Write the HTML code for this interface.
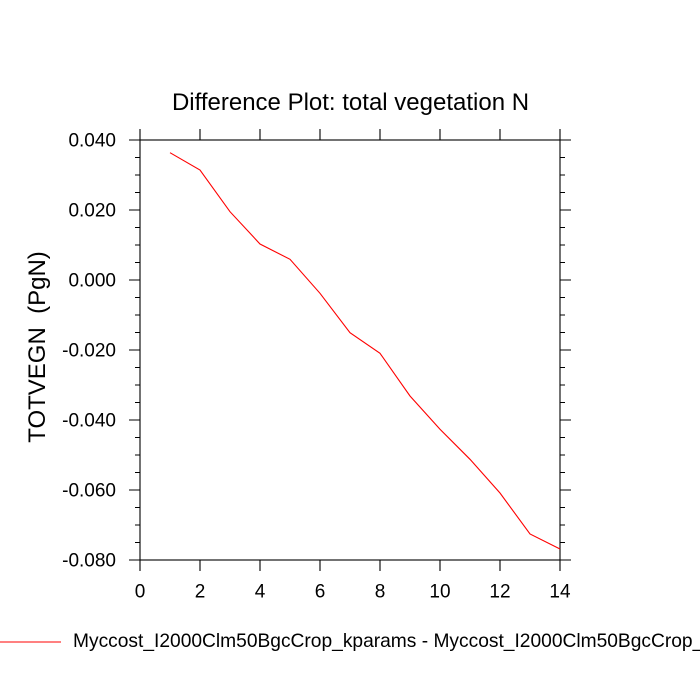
<!DOCTYPE html>
<html>
<head>
<meta charset="utf-8">
<style>
html,body{margin:0;padding:0;background:#fff;}
svg{display:block;}
text{font-family:"Liberation Sans",Arial,sans-serif;fill:#000;}
</style>
</head>
<body>
<svg width="700" height="700" viewBox="0 0 700 700" xmlns="http://www.w3.org/2000/svg">
<rect width="700" height="700" fill="#fff"/>
<!-- title -->
<text x="350.5" y="110" font-size="24" text-anchor="middle">Difference Plot: total vegetation N</text>
<!-- y label -->
<text transform="translate(45,347) rotate(-90)" font-size="24" text-anchor="middle" xml:space="preserve">TOTVEGN  (PgN)</text>

<g stroke="#000" stroke-width="1.1" fill="none">
<!-- frame -->
<rect x="140" y="140" width="420" height="420"/>
<!-- x major ticks bottom & top -->
<path d="M140 560V571 M200 560V571 M260 560V571 M320 560V571 M380 560V571 M440 560V571 M500 560V571 M560 560V571
M140 140V129 M200 140V129 M260 140V129 M320 140V129 M380 140V129 M440 140V129 M500 140V129 M560 140V129"/>
<!-- y major ticks left & right -->
<path d="M140 140H129 M140 210H129 M140 280H129 M140 350H129 M140 420H129 M140 490H129 M140 560H129
M560 140H571 M560 210H571 M560 280H571 M560 350H571 M560 420H571 M560 490H571 M560 560H571"/>
<!-- y minor ticks -->
<path d="M140 157.5H135 M140 175H135 M140 192.5H135
M140 227.5H135 M140 245H135 M140 262.5H135
M140 297.5H135 M140 315H135 M140 332.5H135
M140 367.5H135 M140 385H135 M140 402.5H135
M140 437.5H135 M140 455H135 M140 472.5H135
M140 507.5H135 M140 525H135 M140 542.5H135
M560 157.5H565 M560 175H565 M560 192.5H565
M560 227.5H565 M560 245H565 M560 262.5H565
M560 297.5H565 M560 315H565 M560 332.5H565
M560 367.5H565 M560 385H565 M560 402.5H565
M560 437.5H565 M560 455H565 M560 472.5H565
M560 507.5H565 M560 525H565 M560 542.5H565"/>
</g>

<!-- y tick labels -->
<g font-size="19" text-anchor="end">
<text x="116" y="146.7">0.040</text>
<text x="116" y="216.7">0.020</text>
<text x="116" y="286.7">0.000</text>
<text x="116" y="356.7">-0.020</text>
<text x="116" y="426.7">-0.040</text>
<text x="116" y="496.7">-0.060</text>
<text x="116" y="566.7">-0.080</text>
</g>
<!-- x tick labels -->
<g font-size="19" text-anchor="middle">
<text x="140" y="597.5">0</text>
<text x="200" y="597.5">2</text>
<text x="260" y="597.5">4</text>
<text x="320" y="597.5">6</text>
<text x="380" y="597.5">8</text>
<text x="440" y="597.5">10</text>
<text x="500" y="597.5">12</text>
<text x="560" y="597.5">14</text>
</g>

<!-- data -->
<polyline fill="none" stroke="#ff0000" stroke-width="1.1" points="170,152.7 200,170 230,211.7 260,244 290,259.3 320,293.3 350,332.7 380,353.3 410,396 440,429.3 470,459.3 500,493 530,534 560,549"/>

<!-- legend -->
<line x1="0" y1="642" x2="61" y2="642" stroke="#ff0000" stroke-width="1.1"/>
<text x="73" y="647" font-size="19.2">Myccost_I2000Clm50BgcCrop_kparams - Myccost_I2000Clm50BgcCrop_</text>
</svg>
</body>
</html>
